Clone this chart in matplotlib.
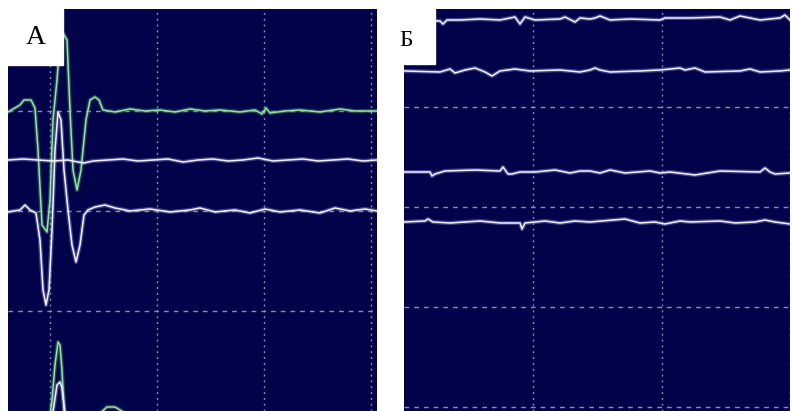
import matplotlib
matplotlib.use("Agg")
import matplotlib.pyplot as plt
import numpy as np

# ---- panel A : evoked responses (samples, amplitude in screen units) ----
# upper green channel, baseline 301
a_green1_t = [0, 12, 16, 23, 27, 30, 34, 39, 42, 45, 49, 52, 55, 59, 62, 65, 69, 73, 78, 82,
              87, 91, 95, 107, 122, 137, 152, 167, 182, 197, 212, 232, 247, 254, 258, 262,
              277, 292, 312, 332, 347, 369]
a_green1_v = [-2, 5, 10, 10, 2, -40, -115, -122, -90, -10, 30, 70, 77, 70, 0, -60, -80, -60, -10, 10,
              13, 10, 0, -2, 1, -1, 0, -2, 1, -1, 0, -2, 0, -4, 2, -3,
              -1, 0, -2, 1, -1, -1]
# flat white channel, baseline 251
a_white1_t = [0, 15, 30, 45, 60, 70, 76, 85, 100, 115, 130, 145, 160, 175, 190, 205, 220, 235,
              250, 265, 280, 295, 310, 325, 340, 355, 369]
a_white1_v = [0, 1, 0, -1, 0, -2, -3, -1, 0, 1, -1, 0, 1, -2, 0, 1, -1, 0,
              2, -1, 0, 1, -1, 0, 1, -1, 0]
# white channel with big deflection, baseline 200
a_white2_t = [0, 12, 17, 22, 28, 32, 35, 38, 41, 44, 47, 50, 53, 56, 60, 64, 68, 72, 76, 80,
              87, 97, 107, 122, 142, 162, 182, 192, 207, 227, 242, 257, 272, 292, 312, 327,
              342, 357, 369]
a_white2_v = [-1, 1, 6, 1, -2, -29, -79, -94, -79, -19, 61, 99, 91, 41, 1, -34, -51, -34, -4, 1,
              4, 6, 3, 0, 2, -1, 1, 3, -1, 1, -2, 2, -1, 1, -2, 3,
              0, 2, 0]
# bottom channels (baseline below the screen)
a_green2_t = [0, 40, 44, 47, 50, 52, 54, 56, 60, 82, 90, 99, 107, 117, 126, 369]
a_green2_v = [0, 0, 31, 66, 89, 86, 61, 21, 0, 0, 16, 24, 24, 18, 0, 0]
a_white3_t = [0, 42, 46, 49, 52, 54, 56, 59, 369]
a_white3_v = [0, 0, 26, 46, 49, 43, 26, 0, 0]

a_base = {"g1": 301, "w1": 251, "w2": 200, "g2": -20, "w3": -20}
a_grid_x = [42, 149, 256, 363]
a_grid_y = [100, 200, 300]

# ---- panel B : four quiet channels ----
b1_t = [0, 36, 39, 43, 56, 76, 96, 111, 116, 121, 131, 156, 161, 171, 176, 186, 191, 196, 206, 226,
        256, 261, 286, 316, 326, 336, 346, 356, 376, 381, 386]
b1_v = [-1, -2, -5, -1, -1, 0, -1, 2, -5, 2, -1, 0, 2, -3, 1, 0, 1, 3, -1, 0,
        -1, 1, 1, 2, -1, 3, 1, -1, 1, 4, -1]
b2_t = [0, 36, 46, 51, 61, 71, 81, 88, 96, 111, 126, 156, 176, 186, 191, 196, 206, 236, 256, 276,
        281, 291, 301, 336, 346, 356, 376, 386]
b2_v = [0, -1, 2, -2, 1, 3, -1, -5, 0, 2, 0, 1, -1, 1, 3, 1, -1, 0, 1, 3,
        1, 3, -1, 0, 2, -1, 0, 1]
b3_t = [0, 26, 28, 31, 41, 71, 96, 99, 104, 108, 116, 131, 151, 166, 176, 186, 196, 206, 216, 221,
        246, 256, 266, 291, 316, 356, 361, 366, 371, 386]
b3_v = [0, 0, -4, -2, 1, 2, 1, 5, -2, -2, 0, 0, 2, -1, 1, 1, -1, 2, 0, -1,
        1, -1, 0, -3, 1, 0, 4, 0, -2, -1]
b4_t = [0, 21, 24, 29, 46, 76, 96, 116, 118, 121, 131, 141, 156, 171, 186, 221, 236, 251, 261, 276,
        286, 316, 331, 351, 361, 371, 386]
b4_v = [0, 1, 3, 0, -1, 1, -1, -1, -7, -1, 0, 1, -1, 1, 0, 3, -1, 0, -2, 1,
        0, 1, -1, 0, 2, 0, -2]
b_base = [388, 336, 235, 185]
b_grid_x = [129, 258, 386]
b_grid_y = [0, 100, 200, 300]

BG = "#02024a"
GRID = "#8a8cb4"
WHITE = "#f2f2ff"
WHITE_GLOW = "#9c9ce0"
GREEN = "#9ee09e"
GREEN_GLOW = "#3fa860"


def trace(ax, t, v, base, col, glow):
    y = np.array(v) + base
    ax.plot(t, y, color=glow, lw=3.0, alpha=0.4, solid_joinstyle="round", zorder=3)
    ax.plot(t, y, color=col, lw=1.1, solid_joinstyle="round", zorder=4)


def scope(ax, gx, gy):
    ax.set_facecolor(BG)
    for x in gx:
        ax.axvline(x, color=GRID, lw=1.0, ls=(0, (1.4, 2.8)), zorder=1)
    for y in gy:
        ax.axhline(y, color=GRID, lw=1.0, ls=(0, (3.4, 3.6)), zorder=1)
    ax.set_xticks([])
    ax.set_yticks([])
    for s in ax.spines.values():
        s.set_visible(False)


fig = plt.figure(figsize=(7.94, 4.11), dpi=100)
W, H = 794, 411

axA = fig.add_axes([8 / W, 0, 369 / W, 402 / H])
scope(axA, a_grid_x, a_grid_y)
axA.set_xlim(0, 369)
axA.set_ylim(0, 402)
trace(axA, a_green2_t, a_green2_v, a_base["g2"], GREEN, GREEN_GLOW)
trace(axA, a_white3_t, a_white3_v, a_base["w3"], WHITE, WHITE_GLOW)
trace(axA, a_green1_t, a_green1_v, a_base["g1"], GREEN, GREEN_GLOW)
trace(axA, a_white1_t, a_white1_v, a_base["w1"], WHITE, WHITE_GLOW)
trace(axA, a_white2_t, a_white2_v, a_base["w2"], WHITE, WHITE_GLOW)

axB = fig.add_axes([404 / W, 0, 386 / W, 402 / H])
scope(axB, b_grid_x, b_grid_y)
axB.set_xlim(0, 386)
axB.set_ylim(-4, 398)
for t, v, b in zip([b1_t, b2_t, b3_t, b4_t], [b1_v, b2_v, b3_v, b4_v], b_base):
    trace(axB, t, v, b, WHITE, WHITE_GLOW)

# label boxes
fig.patches.append(plt.Rectangle((8 / W, 1 - 65 / H), 55 / W, 56 / H,
                                 transform=fig.transFigure, color="white", zorder=10))
fig.text(36 / W, 1 - 38 / H, "А", ha="center", va="center", fontsize=20,
         family="Liberation Serif", zorder=11)
fig.patches.append(plt.Rectangle((404 / W, 1 - 64 / H), 31 / W, 55 / H,
                                 transform=fig.transFigure, color="white", zorder=10))
fig.text(406 / W, 1 - 40 / H, "Б", ha="center", va="center", fontsize=17,
         family="Liberation Serif", zorder=11)

fig.savefig("out.png", dpi=100, facecolor="white")
